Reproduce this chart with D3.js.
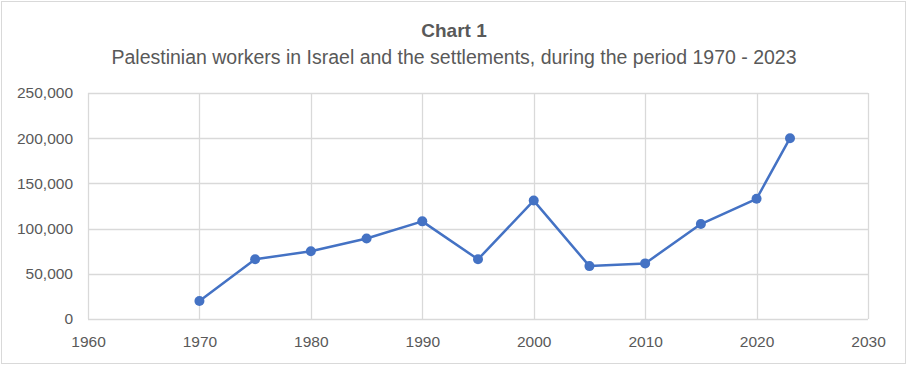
<!DOCTYPE html>
<html>
<head>
<meta charset="utf-8">
<script src="https://cdn.jsdelivr.net/npm/d3@7"></script>
<style>
  body { margin: 0; background: #fff; }
  text { font-family: "Liberation Sans", Arial, sans-serif; fill: #595959; }
</style>
</head>
<body>
<svg id="chart" width="908" height="366"></svg>
<script>
var years = [1970, 1975, 1980, 1985, 1990, 1995, 2000, 2005, 2010, 2015, 2020, 2023];
var workers = [20000, 66000, 75000, 89000, 108000, 66000, 131000, 58500, 61500, 105000, 133000, 200000];
var xTicks = [1960, 1970, 1980, 1990, 2000, 2010, 2020, 2030];
var yTicks = [0, 50000, 100000, 150000, 200000, 250000];
var title = "Chart 1";
var subtitle = "Palestinian workers in Israel and the settlements, during the period 1970 - 2023";

var width = 908, height = 366;
var margin = {left: 88, right: 40, top: 93, bottom: 47};

var svg = d3.select("#chart");

// outer frame
svg.append("rect")
    .attr("x", 1.5).attr("y", 1.5)
    .attr("width", width - 4).attr("height", height - 4)
    .attr("fill", "#fff").attr("stroke", "#d9d9d9");

var x = d3.scaleLinear().domain([1960, 2030]).range([margin.left, width - margin.right]);
var y = d3.scaleLinear().domain([0, 250000]).range([height - margin.bottom, margin.top]);

// gridlines
svg.append("g").selectAll("line")
    .data(yTicks)
    .enter().append("line")
    .attr("x1", x(1960)).attr("x2", x(2030))
    .attr("y1", function(d) { return Math.round(y(d)) + 0.5; })
    .attr("y2", function(d) { return Math.round(y(d)) + 0.5; })
    .attr("stroke", "#d9d9d9").attr("stroke-width", 1.3);

svg.append("g").selectAll("line")
    .data(xTicks)
    .enter().append("line")
    .attr("x1", function(d) { return Math.round(x(d)) + 0.5; })
    .attr("x2", function(d) { return Math.round(x(d)) + 0.5; })
    .attr("y1", y(0)).attr("y2", y(250000))
    .attr("stroke", "#d9d9d9").attr("stroke-width", 1.3);

// axes
var fmt = d3.format(",");
var yAxis = svg.append("g")
    .attr("transform", "translate(" + (margin.left - 15) + ",0)")
    .call(d3.axisLeft(y).tickValues(yTicks).tickFormat(fmt).tickSize(0));
yAxis.select(".domain").remove();
yAxis.selectAll("text").attr("font-size", 15.5).attr("x", 0)
    .style("font-family", "Liberation Sans, Arial, sans-serif");

var xAxis = svg.append("g")
    .attr("transform", "translate(0," + (height - margin.bottom + 14) + ")")
    .call(d3.axisBottom(x).tickValues(xTicks).tickFormat(d3.format("d")).tickSize(0));
xAxis.select(".domain").remove();
xAxis.selectAll("text").attr("font-size", 15.5)
    .style("font-family", "Liberation Sans, Arial, sans-serif");

// titles
svg.append("text")
    .attr("x", 454).attr("y", 37)
    .attr("text-anchor", "middle")
    .attr("font-size", 19).attr("font-weight", "bold")
    .text(title);
svg.append("text")
    .attr("x", 454).attr("y", 64)
    .attr("text-anchor", "middle")
    .attr("font-size", 19.5)
    .text(subtitle);

// series
var pts = years.map(function(d, i) { return {year: d, value: workers[i]}; });
var line = d3.line()
    .x(function(d) { return x(d.year); })
    .y(function(d) { return y(d.value); });

svg.append("path")
    .datum(pts)
    .attr("d", line)
    .attr("fill", "none")
    .attr("stroke", "#4472c4")
    .attr("stroke-width", 2.5)
    .attr("stroke-linejoin", "round");

svg.append("g").selectAll("circle")
    .data(pts)
    .enter().append("circle")
    .attr("cx", function(d) { return x(d.year); })
    .attr("cy", function(d) { return y(d.value); })
    .attr("r", 5)
    .attr("fill", "#4472c4");
</script>
</body>
</html>
